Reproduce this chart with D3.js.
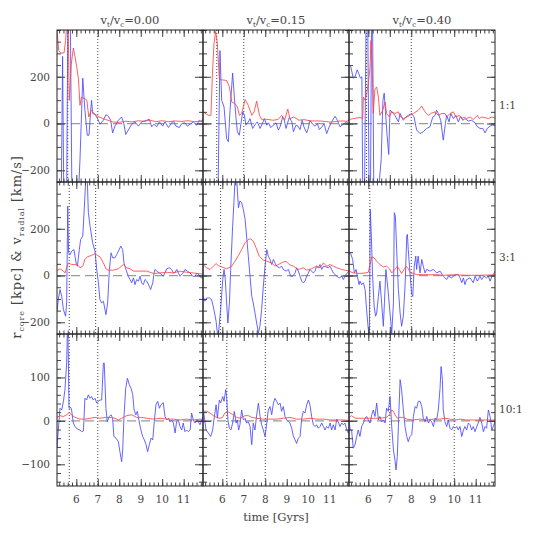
<!DOCTYPE html>
<html><head><meta charset="utf-8">
<script src="https://cdn.jsdelivr.net/npm/d3@7"></script>
<style>body{margin:0;background:#fff}</style>
</head><body>
<script>
// ---------- data ----------
const velRatios = ["0.00", "0.15", "0.40"];
const massRatios = ["1:1", "3:1", "10:1"];
const xMajor = [6, 7, 8, 9, 10, 11];
const yLabelsTop = [-200, 0, 200];
const yLabelsBottom = [-100, 0, 100];
const markers = [[5.6,7.0],[5.74,7.0],[5.92,8.0],[5.67,6.9],[5.92,8.0],[6.07,8.0],[5.67,7.0],[6.21,8.0],[7.0,10.0]];

// red: r_core ; blue: v_radial   ([time, value])
const r11 = [[5.10,400],[5.18,312],[5.27,302],[5.43,302],[5.50,355],[5.56,430],[5.62,430],[5.67,99],[5.76,250],[5.86,323],[5.95,280],[6.02,240],[6.10,190],[6.17,78],[6.24,113],[6.40,106],[6.49,100],[6.58,28],[6.69,57],[6.84,42],[7.06,28],[7.37,17],[7.68,7],[8.00,5],[8.30,10],[8.60,7],[8.90,12],[9.20,9],[9.40,15],[9.70,8],[10.00,12],[10.30,8],[10.60,11],[10.90,9],[11.20,12],[11.50,8],[11.80,10],[11.90,14]];
const b11 = [[5.10,-400],[5.30,-300],[5.36,287],[5.42,-350],[5.55,-300],[5.61,500],[5.72,450],[5.80,-350],[6.10,-300],[6.17,-156],[6.30,194],[6.40,57],[6.51,-50],[6.59,-50],[6.67,57],[6.71,99],[6.76,43],[6.87,40],[7.03,14],[7.10,-3],[7.26,14],[7.38,38],[7.49,31],[7.60,14],[7.69,-40],[7.80,-11],[7.96,14],[8.11,28],[8.22,-3],[8.30,-47],[8.42,-28],[8.58,-3],[8.73,7],[8.89,-11],[9.04,7],[9.28,14],[9.40,18],[9.51,-14],[9.62,-3],[9.74,-14],[9.87,7],[10.02,-11],[10.13,7],[10.29,-17],[10.40,-3],[10.52,11],[10.64,-11],[10.80,-17],[10.91,0],[11.06,3],[11.17,-11],[11.30,-3],[11.45,7],[11.61,-7],[11.73,14],[11.84,7],[11.90,21]];

const r12 = [[5.10,50],[5.35,35],[5.47,35],[5.53,191],[5.61,340],[5.69,394],[5.77,340],[5.86,191],[5.97,187],[6.20,184],[6.33,156],[6.44,92],[6.59,85],[6.70,71],[6.80,35],[6.90,43],[7.06,102],[7.21,78],[7.37,35],[7.48,50],[7.60,96],[7.73,35],[7.83,18],[8.07,18],[8.38,14],[8.60,18],[8.77,35],[8.90,14],[9.05,62],[9.15,21],[9.33,28],[9.57,14],[9.80,17],[10.11,11],[10.57,11],[11.04,6],[11.51,11],[11.82,10],[11.90,14]];
const b12 = [[5.10,-300],[5.80,-300],[5.89,312],[5.97,99],[6.08,71],[6.20,-64],[6.28,-78],[6.36,57],[6.48,216],[6.56,113],[6.64,21],[6.70,-35],[6.79,-50],[6.88,7],[6.95,50],[7.03,35],[7.10,-7],[7.21,7],[7.29,21],[7.41,-21],[7.56,0],[7.63,7],[7.76,-21],[7.83,-7],[7.96,21],[8.07,-7],[8.15,3],[8.25,-17],[8.38,-7],[8.50,3],[8.61,-28],[8.69,-14],[8.81,28],[8.87,21],[8.97,-21],[9.03,0],[9.12,26],[9.24,7],[9.31,-35],[9.43,-7],[9.52,-11],[9.62,-26],[9.72,14],[9.80,-14],[9.93,-40],[10.00,-21],[10.08,14],[10.21,-3],[10.32,-11],[10.43,0],[10.52,-26],[10.64,-14],[10.74,0],[10.86,-43],[10.98,-14],[11.09,7],[11.25,31],[11.36,14],[11.48,-14],[11.63,-3],[11.79,7],[11.90,-3]];

const r13 = [[5.10,17],[5.30,21],[5.61,26],[5.74,21],[5.77,113],[5.85,99],[5.92,128],[6.00,170],[6.08,241],[6.12,355],[6.17,284],[6.23,43],[6.31,149],[6.39,156],[6.47,113],[6.54,35],[6.67,57],[6.78,92],[6.85,43],[6.98,28],[7.09,50],[7.24,43],[7.40,50],[7.48,31],[7.63,21],[7.79,28],[7.94,35],[8.10,43],[8.33,57],[8.49,74],[8.64,50],[8.80,35],[8.95,45],[9.11,50],[9.26,35],[9.42,43],[9.57,43],[9.65,28],[9.81,43],[9.96,50],[10.08,28],[10.24,35],[10.35,21],[10.46,28],[10.58,21],[10.74,28],[10.89,17],[11.08,35],[11.17,21],[11.28,28],[11.44,25],[11.59,21],[11.75,28],[11.90,24]];
const b13 = [[5.10,251],[5.18,244],[5.30,194],[5.38,200],[5.48,230],[5.55,215],[5.63,194],[5.70,200],[5.74,-300],[5.82,-350],[5.90,500],[5.97,480],[6.04,-350],[6.10,-300],[6.15,450],[6.20,400],[6.26,-350],[6.45,-320],[6.60,-150],[6.68,100],[6.74,130],[6.80,50],[6.87,-47],[6.95,-132],[7.01,57],[7.10,50],[7.24,35],[7.40,7],[7.48,43],[7.63,14],[7.76,28],[7.86,35],[8.02,43],[8.13,28],[8.25,-28],[8.41,-43],[8.56,-35],[8.72,-21],[8.87,-14],[9.00,28],[9.11,35],[9.18,57],[9.26,43],[9.37,14],[9.49,-71],[9.59,0],[9.65,35],[9.76,7],[9.84,43],[9.96,21],[10.08,35],[10.19,7],[10.30,31],[10.40,14],[10.50,21],[10.66,11],[10.81,14],[10.97,3],[11.05,-11],[11.20,-21],[11.33,-21],[11.44,-40],[11.54,-21],[11.67,-11],[11.79,-7],[11.90,-7]];

const r21 = [[5.10,21],[5.24,29],[5.40,19],[5.47,11],[5.55,33],[5.63,54],[5.78,47],[5.94,47],[6.09,43],[6.17,33],[6.30,40],[6.40,69],[6.51,80],[6.71,86],[6.87,94],[6.98,86],[7.10,80],[7.26,54],[7.38,29],[7.49,23],[7.72,23],[7.96,29],[8.19,47],[8.35,33],[8.50,29],[8.66,19],[8.97,19],[9.28,19],[9.59,9],[9.90,11],[10.21,14],[10.52,11],[10.83,19],[11.14,14],[11.46,11],[11.76,7],[11.90,7]];
const b21 = [[5.10,-153],[5.16,-103],[5.24,-60],[5.32,-89],[5.40,-146],[5.50,-174],[5.55,-117],[5.60,297],[5.64,97],[5.71,90],[5.78,104],[5.89,111],[5.99,54],[6.05,40],[6.14,111],[6.20,154],[6.30,169],[6.36,269],[6.44,410],[6.51,410],[6.56,269],[6.64,211],[6.76,140],[6.87,104],[6.95,26],[7.03,-31],[7.10,-103],[7.18,-117],[7.26,-110],[7.38,-167],[7.46,-117],[7.54,26],[7.62,97],[7.69,76],[7.80,76],[7.88,90],[7.96,104],[8.07,126],[8.16,111],[8.22,54],[8.31,26],[8.42,-3],[8.50,-17],[8.58,-31],[8.66,-10],[8.73,-39],[8.81,-17],[8.89,-24],[8.97,-3],[9.04,-31],[9.12,-39],[9.20,-17],[9.28,-24],[9.40,-46],[9.46,-60],[9.56,-31],[9.62,11],[9.67,26],[9.74,19],[9.87,11],[9.98,4],[10.05,-3],[10.13,11],[10.21,29],[10.33,33],[10.44,26],[10.52,11],[10.60,14],[10.68,26],[10.83,-3],[10.97,11],[11.06,26],[11.17,19],[11.30,11],[11.42,-3],[11.53,-3],[11.62,11],[11.73,0],[11.81,-10],[11.90,-10]];

const r22 = [[5.10,47],[5.27,33],[5.43,26],[5.58,40],[5.71,51],[5.81,43],[5.97,37],[6.20,29],[6.44,40],[6.59,61],[6.75,86],[6.90,111],[7.06,140],[7.21,154],[7.32,157],[7.44,147],[7.57,119],[7.72,83],[7.91,66],[8.07,61],[8.30,54],[8.45,40],[8.61,47],[8.81,57],[8.97,61],[9.12,47],[9.31,40],[9.54,26],[9.77,33],[9.93,23],[10.16,29],[10.39,40],[10.55,33],[10.71,54],[10.86,40],[11.02,47],[11.17,40],[11.33,33],[11.56,26],[11.71,23],[11.90,19]];
const b22 = [[5.10,-89],[5.19,-110],[5.27,-96],[5.40,-96],[5.50,-103],[5.61,-146],[5.71,-196],[5.77,-246],[5.81,-260],[5.92,-146],[6.02,-17],[6.08,26],[6.14,-17],[6.20,-117],[6.26,-203],[6.33,-117],[6.39,26],[6.48,211],[6.54,311],[6.59,410],[6.67,410],[6.75,290],[6.82,319],[6.90,311],[6.98,283],[7.06,240],[7.13,169],[7.21,83],[7.29,-3],[7.37,-89],[7.44,-117],[7.52,-160],[7.60,-203],[7.68,-246],[7.75,-217],[7.83,-146],[7.91,-46],[7.99,40],[8.07,111],[8.14,83],[8.22,69],[8.30,47],[8.38,69],[8.45,54],[8.53,40],[8.66,33],[8.76,40],[8.84,26],[8.97,19],[9.08,26],[9.18,-3],[9.28,-3],[9.39,11],[9.46,33],[9.54,19],[9.62,-3],[9.70,-24],[9.77,-31],[9.85,-24],[9.93,-3],[10.01,11],[10.08,26],[10.24,11],[10.32,19],[10.39,40],[10.47,33],[10.55,47],[10.63,26],[10.71,40],[10.83,37],[10.94,33],[11.02,40],[11.09,26],[11.17,11],[11.25,4],[11.33,-3],[11.45,-10],[11.56,-3],[11.64,-17],[11.71,-3],[11.82,11],[11.90,19]];

const r23 = [[5.10,19],[5.30,11],[5.61,9],[5.85,11],[6.00,14],[6.08,47],[6.16,80],[6.27,76],[6.39,61],[6.54,47],[6.70,37],[6.85,40],[6.98,29],[7.09,11],[7.17,19],[7.24,26],[7.35,40],[7.44,26],[7.55,9],[7.66,26],[7.76,40],[7.86,29],[7.97,11],[8.10,9],[8.25,4],[8.56,4],[8.87,3],[9.18,4],[9.49,1],[9.96,3],[10.58,1],[11.20,1],[11.90,3]];
const b23 = [[5.10,97],[5.18,94],[5.27,69],[5.35,11],[5.43,26],[5.49,-3],[5.57,-39],[5.61,-24],[5.69,-39],[5.77,-31],[5.85,-60],[5.92,-146],[6.00,-231],[6.05,-260],[6.09,283],[6.14,169],[6.20,-3],[6.27,-131],[6.34,-174],[6.39,-160],[6.47,-89],[6.54,-24],[6.62,-117],[6.70,-217],[6.75,-117],[6.82,26],[6.93,-74],[7.01,-160],[7.09,-246],[7.17,-117],[7.21,269],[7.26,254],[7.32,111],[7.40,-60],[7.48,-160],[7.55,-217],[7.63,-174],[7.71,-46],[7.79,169],[7.82,176],[7.86,111],[7.94,11],[8.02,-81],[8.07,-89],[8.10,-31],[8.14,40],[8.21,83],[8.25,26],[8.27,47],[8.32,83],[8.41,11],[8.49,69],[8.56,40],[8.64,11],[8.72,26],[8.87,19],[9.03,26],[9.18,11],[9.34,19],[9.49,-3],[9.65,-17],[9.73,-3],[9.88,-10],[10.04,4],[10.19,4],[10.27,-10],[10.35,-31],[10.43,-10],[10.50,-39],[10.58,-17],[10.74,-10],[10.89,-31],[10.97,-3],[11.08,-24],[11.20,-3],[11.28,-17],[11.39,-3],[11.51,-10],[11.59,-3],[11.67,-24],[11.75,-6],[11.82,4],[11.90,19]];

const r31 = [[5.10,8],[5.24,12],[5.40,10],[5.55,14],[5.66,19],[5.78,14],[5.94,8],[6.17,4],[6.40,4],[6.64,6],[6.87,8],[7.10,6],[7.34,8],[7.57,8],[7.80,6],[7.96,2],[8.11,6],[8.35,12],[8.58,14],[8.81,8],[9.04,8],[9.28,6],[9.59,4],[9.90,6],[10.21,4],[10.52,4],[10.83,2],[11.14,4],[11.45,2],[11.76,4],[11.90,1]];
const b31 = [[5.10,-63],[5.16,-21],[5.24,29],[5.32,25],[5.40,45],[5.47,72],[5.55,133],[5.60,240],[5.66,29],[5.74,31],[5.78,25],[5.86,-5],[5.94,-13],[6.05,-19],[6.17,-21],[6.25,-25],[6.33,-23],[6.40,52],[6.48,48],[6.56,60],[6.64,52],[6.71,56],[6.79,48],[6.87,52],[6.95,41],[7.03,45],[7.10,48],[7.18,48],[7.26,133],[7.30,133],[7.38,29],[7.44,-2],[7.54,10],[7.62,14],[7.69,6],[7.75,-36],[7.85,-40],[7.96,-48],[8.03,-71],[8.11,-94],[8.16,-67],[8.22,10],[8.30,75],[8.38,98],[8.47,83],[8.55,75],[8.63,60],[8.69,25],[8.77,14],[8.84,22],[8.94,-5],[9.01,-21],[9.09,-36],[9.17,-44],[9.25,-55],[9.32,-71],[9.40,-55],[9.48,-40],[9.56,-44],[9.63,-2],[9.71,37],[9.79,45],[9.87,29],[9.94,37],[10.05,42],[10.13,10],[10.21,2],[10.29,6],[10.36,-2],[10.44,2],[10.52,-5],[10.60,-28],[10.67,-2],[10.75,2],[10.83,-13],[10.91,-21],[10.98,-5],[11.06,-25],[11.14,-21],[11.22,-25],[11.30,-21],[11.37,18],[11.45,2],[11.53,-5],[11.61,2],[11.68,-2],[11.76,-9],[11.84,2],[11.90,10]];

const r32 = [[5.10,22],[5.27,22],[5.43,18],[5.58,12],[5.74,8],[5.89,6],[6.01,8],[6.12,18],[6.23,22],[6.36,18],[6.51,14],[6.67,8],[6.82,6],[7.06,12],[7.21,12],[7.37,8],[7.60,6],[7.91,4],[8.22,4],[8.53,4],[8.84,6],[9.15,8],[9.46,4],[9.77,4],[10.08,6],[10.39,4],[10.71,4],[11.02,2],[11.33,2],[11.64,2],[11.90,1]];
const b32 = [[5.10,29],[5.16,10],[5.24,-21],[5.35,-28],[5.46,-36],[5.55,-21],[5.63,10],[5.71,37],[5.77,6],[5.86,48],[5.92,41],[6.02,56],[6.08,45],[6.16,72],[6.20,56],[6.26,2],[6.33,-17],[6.40,-21],[6.48,-5],[6.56,22],[6.64,-5],[6.70,2],[6.76,-21],[6.82,-9],[6.90,25],[6.98,2],[7.06,6],[7.13,-5],[7.21,-2],[7.29,-13],[7.37,-55],[7.44,-5],[7.52,-21],[7.60,14],[7.68,41],[7.76,10],[7.83,-9],[7.91,-21],[7.99,-36],[8.07,-5],[8.14,25],[8.22,33],[8.30,14],[8.38,41],[8.45,52],[8.53,45],[8.61,37],[8.69,41],[8.76,22],[8.84,33],[8.92,10],[9.00,2],[9.08,-2],[9.15,-5],[9.23,-17],[9.31,-36],[9.39,-44],[9.46,-52],[9.54,-40],[9.62,-36],[9.70,6],[9.77,22],[9.85,18],[9.93,37],[10.01,48],[10.08,37],[10.16,10],[10.24,-9],[10.32,-13],[10.39,-9],[10.47,-17],[10.55,-13],[10.63,-5],[10.71,-13],[10.78,-21],[10.86,-13],[10.94,-17],[11.02,-5],[11.09,-21],[11.17,-9],[11.25,-21],[11.33,4],[11.40,-2],[11.48,-13],[11.56,-5],[11.64,-9],[11.71,-5],[11.80,-21],[11.87,-28],[11.90,-21]];

const r33 = [[5.10,8],[5.22,12],[5.38,6],[5.61,6],[5.85,6],[6.08,6],[6.54,6],[6.85,8],[6.98,14],[7.09,25],[7.17,22],[7.24,14],[7.35,6],[7.48,8],[7.63,8],[7.79,4],[8.10,2],[8.41,4],[8.72,2],[9.03,4],[9.34,4],[9.57,6],[9.80,4],[10.04,2],[10.27,4],[10.58,2],[10.89,2],[11.20,2],[11.51,2],[11.90,2]];
const b33 = [[5.10,10],[5.15,-21],[5.22,-21],[5.30,-63],[5.38,-55],[5.46,-36],[5.53,-21],[5.61,-36],[5.69,-13],[5.77,-5],[5.85,6],[5.92,10],[6.00,2],[6.08,-5],[6.16,14],[6.23,25],[6.31,10],[6.39,41],[6.47,2],[6.54,10],[6.62,-2],[6.70,2],[6.78,-5],[6.85,29],[6.93,22],[7.01,56],[7.09,-13],[7.17,-67],[7.24,-90],[7.29,-113],[7.35,-82],[7.41,2],[7.48,95],[7.55,72],[7.63,25],[7.71,-13],[7.79,-36],[7.86,-48],[7.94,-36],[8.02,-32],[8.10,10],[8.18,33],[8.25,29],[8.33,45],[8.41,45],[8.49,33],[8.56,6],[8.64,-2],[8.72,10],[8.80,-5],[8.87,2],[8.95,-2],[9.03,-13],[9.11,6],[9.18,2],[9.26,25],[9.34,75],[9.39,125],[9.45,95],[9.49,25],[9.57,-2],[9.65,-13],[9.73,2],[9.80,-17],[9.88,-21],[9.96,-13],[10.04,-17],[10.12,-13],[10.19,-21],[10.27,-13],[10.35,-36],[10.43,-21],[10.50,-13],[10.58,-21],[10.66,-5],[10.74,-9],[10.81,-21],[10.89,-13],[10.97,-25],[11.05,-13],[11.12,-5],[11.20,8],[11.28,-5],[11.36,-25],[11.44,-13],[11.51,-17],[11.59,25],[11.67,10],[11.75,-21],[11.82,-13],[11.90,-2]];

const redSeries = [[r11, r12, r13], [r21, r22, r23], [r31, r32, r33]];
const blueSeries = [[b11, b12, b13], [b21, b22, b23], [b31, b32, b33]];

// ---------- layout ----------
const W = 545, H = 545;
const L = 57, PW = 146, T = 30, PH = 152;
const FONT = "'DejaVu Serif', serif";
const TXT = "#444";

const svg = d3.select("body").append("svg").attr("width", W).attr("height", H)
  .style("font-family", FONT);
const defs = svg.append("defs");

for (let i = 0; i < 3; i++) {
  for (let j = 0; j < 3; j++) {
    const x0 = L + j * PW, y0 = T + i * PH;
    const xs = d3.scaleLinear().domain([5.1, 11.9]).range([x0, x0 + PW]);
    const yDom = i < 2 ? [-250, 400] : [-150, 200];
    const ys = d3.scaleLinear().domain(yDom).range([y0 + PH, y0]);
    const yLab = i < 2 ? yLabelsTop : yLabelsBottom;
    const yMinorStep = i < 2 ? 50 : 20;
    const yMinor = d3.range(Math.ceil(yDom[0] / yMinorStep) * yMinorStep, yDom[1] + 0.001, yMinorStep);
    const xMinor = d3.range(5.2, 11.9, 0.2).map(v => +v.toFixed(1));

    const id = `clip${i}${j}`;
    defs.append("clipPath").attr("id", id).append("rect")
      .attr("x", x0).attr("y", y0).attr("width", PW).attr("height", PH);
    const g = svg.append("g");
    const pg = g.append("g").attr("clip-path", `url(#${id})`);

    // zero line
    pg.append("line").attr("x1", x0).attr("x2", x0 + PW)
      .attr("y1", ys(0)).attr("y2", ys(0))
      .attr("stroke", "#9a9a9a").attr("stroke-width", 1.3).attr("stroke-dasharray", "9,5");

    // markers
    const mk = markers[i * 3 + j];
    mk.forEach(t => {
      pg.append("line").attr("x1", xs(t)).attr("x2", xs(t))
        .attr("y1", y0).attr("y2", y0 + PH)
        .attr("stroke", "#444").attr("stroke-width", 1).attr("stroke-dasharray", "1,2");
    });

    const line = d3.line().x(d => xs(d[0])).y(d => ys(d[1]));
    pg.append("path").datum(blueSeries[i][j]).attr("d", line)
      .attr("fill", "none").attr("stroke", "#4a4aff").attr("stroke-opacity", 0.85).attr("stroke-width", 1);
    pg.append("path").datum(redSeries[i][j]).attr("d", line)
      .attr("fill", "none").attr("stroke", "#ff4444").attr("stroke-opacity", 0.85).attr("stroke-width", 1);

    // ticks (inward, all sides)
    const tickCol = "#444";
    function styleAxis(sel) {
      sel.select(".domain").remove();
      sel.selectAll("line").attr("stroke", tickCol);
      sel.selectAll("text").remove();
    }
    const yMaj = yLab, xMaj = xMajor;
    g.append("g").attr("transform", `translate(${x0},0)`)
      .call(d3.axisLeft(ys).tickValues(yMinor).tickSize(-4).tickFormat("")).call(styleAxis);
    g.append("g").attr("transform", `translate(${x0},0)`)
      .call(d3.axisLeft(ys).tickValues(yMaj).tickSize(-8).tickFormat("")).call(styleAxis);
    g.append("g").attr("transform", `translate(${x0 + PW},0)`)
      .call(d3.axisRight(ys).tickValues(yMinor).tickSize(-4).tickFormat("")).call(styleAxis);
    g.append("g").attr("transform", `translate(${x0 + PW},0)`)
      .call(d3.axisRight(ys).tickValues(yMaj).tickSize(-8).tickFormat("")).call(styleAxis);
    g.append("g").attr("transform", `translate(0,${y0 + PH})`)
      .call(d3.axisBottom(xs).tickValues(xMinor).tickSize(-3.5).tickFormat("")).call(styleAxis);
    g.append("g").attr("transform", `translate(0,${y0 + PH})`)
      .call(d3.axisBottom(xs).tickValues(xMaj).tickSize(-7).tickFormat("")).call(styleAxis);
    g.append("g").attr("transform", `translate(0,${y0})`)
      .call(d3.axisTop(xs).tickValues(xMinor).tickSize(-3.5).tickFormat("")).call(styleAxis);
    g.append("g").attr("transform", `translate(0,${y0})`)
      .call(d3.axisTop(xs).tickValues(xMaj).tickSize(-7).tickFormat("")).call(styleAxis);

    // frame
    g.append("rect").attr("x", x0).attr("y", y0).attr("width", PW).attr("height", PH)
      .attr("fill", "none").attr("stroke", "#222").attr("stroke-width", 1);

    // y labels
    if (j === 0) {
      yLab.forEach(v => {
        g.append("text").attr("x", x0 - 7).attr("y", ys(v)).attr("dy", "0.36em")
          .attr("text-anchor", "end").attr("font-size", 10.5).attr("fill", TXT)
          .text(v < 0 ? "\u2212" + Math.abs(v) : String(v));
      });
    }
    // x labels
    if (i === 2) {
      xMajor.forEach(v => {
        g.append("text").attr("x", xs(v)).attr("y", y0 + PH + 17)
          .attr("text-anchor", "middle").attr("font-size", 10.5).attr("fill", TXT).text(v);
      });
    }
    // column titles
    if (i === 0) {
      const tt = g.append("text").attr("x", x0 + PW / 2).attr("y", 24)
        .attr("text-anchor", "middle").attr("font-size", 11.5).attr("fill", TXT);
      tt.append("tspan").text("v");
      tt.append("tspan").attr("font-size", 7).attr("dy", 3).text("t");
      tt.append("tspan").attr("dy", -3).text("/v");
      tt.append("tspan").attr("font-size", 7).attr("dy", 3).text("c");
      tt.append("tspan").attr("dy", -3).text("=" + velRatios[j]);
    }
    // row labels
    if (j === 2) {
      g.append("text").attr("x", 499).attr("y", y0 + 79)
        .attr("text-anchor", "start").attr("font-size", 10.5).attr("fill", TXT).text(massRatios[i]);
    }
  }
}

// axis titles
svg.append("text").attr("x", L + 1.5 * PW).attr("y", 521)
  .attr("text-anchor", "middle").attr("font-size", 11.5).attr("fill", TXT).text("time [Gyrs]");

const yt = svg.append("text").attr("transform", `translate(21,247) rotate(-90)`)
  .attr("text-anchor", "middle").attr("font-size", 13).attr("letter-spacing", 0.9).attr("fill", TXT);
yt.append("tspan").text("r");
yt.append("tspan").attr("font-size", 8).attr("dy", 3).text("core");
yt.append("tspan").attr("dy", -3).text(" [kpc] & v");
yt.append("tspan").attr("font-size", 8).attr("dy", 3).text("radial");
yt.append("tspan").attr("dy", -3).text(" [km/s]");
</script>
</body></html>
